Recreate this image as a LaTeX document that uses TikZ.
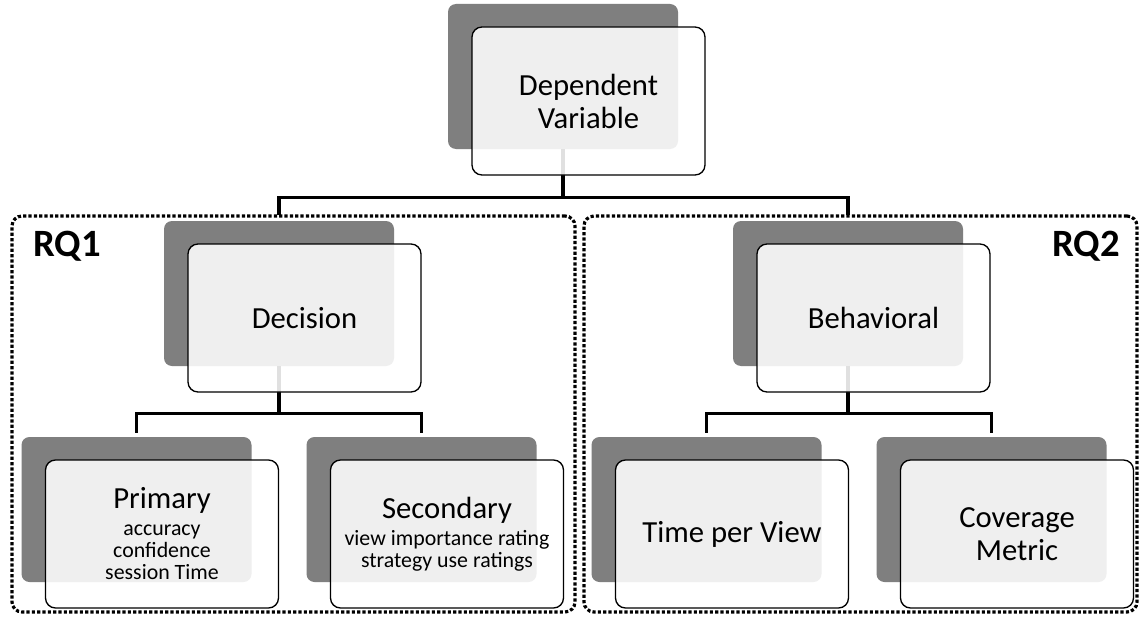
\documentclass[tikz,border=0pt]{standalone}
\usepackage{fontspec}
\setmainfont{Carlito}
\usetikzlibrary{calc}
\definecolor{darkbox}{HTML}{7F7F7F}
\tikzset{
  darkbox/.style={rectangle, rounded corners=6pt, fill=darkbox, draw=none,
    minimum width=172.5pt, minimum height=108.75pt, inner sep=0pt},
  frontbox/.style={rectangle, rounded corners=7.5pt, draw=black, line width=1pt,
    fill=white, fill opacity=0.88, text opacity=1, text=black,
    minimum width=174.75pt, minimum height=111pt, inner sep=0pt, align=center},
  titletext/.style={font=\fontsize{23}{24.75}\selectfont},
  subtext/.style={font=\fontsize{16.4}{16.5}\selectfont},
  conn/.style={draw=black, line width=2.6pt},
  rqframe/.style={rectangle, draw=black, line width=2.4pt,
    dash pattern=on 2.4pt off 1.6pt, rounded corners=7.5pt, inner sep=0pt},
  rqlabel/.style={font=\bfseries\fontsize{29}{32}\selectfont, inner sep=0pt},
}
\newcommand{\ttl}[1]{{\fontsize{23}{24.75}\selectfont #1}}
\begin{document}
\begin{tikzpicture}[x=0.75pt, y=-0.75pt]
\useasboundingbox[fill=white] (0,0) rectangle (1139,617);

% group frames
\node[rqframe, minimum width=422.25pt, minimum height=297pt] (rq1) at (293.5,414) {};
\node[rqframe, minimum width=414.75pt, minimum height=297pt] (rq2) at (860.5,414) {};
\node[rqlabel, anchor=base west] (rq1lab) at (33,256) {RQ1};
\node[rqlabel, anchor=base east] (rq2lab) at (1120,256) {RQ2};

% back boxes
\node[darkbox] (dvb)  at (563,76.5) {};
\node[darkbox] (decb) at (279,293.5) {};
\node[darkbox] (behb) at (848,293.5) {};
\node[darkbox] (prib) at (136.5,509.5) {};
\node[darkbox] (secb) at (421.5,509.5) {};
\node[darkbox] (tpvb) at (706.5,509.5) {};
\node[darkbox] (covb) at (991.5,509.5) {};

% connectors
\draw[conn, shorten >=4.5pt] (dvb.south) -- ++(0,48) -| (decb.north);
\draw[conn, shorten >=4.5pt] (dvb.south) -- ++(0,48) -| (behb.north);
\draw[conn, shorten >=3pt] (decb.south) -- ++(0,47) -| (prib.north);
\draw[conn, shorten >=3pt] (decb.south) -- ++(0,47) -| (secb.north);
\draw[conn, shorten >=3pt] (behb.south) -- ++(0,47) -| (tpvb.north);
\draw[conn, shorten >=3pt] (behb.south) -- ++(0,47) -| (covb.north);

% front boxes
\node[frontbox, titletext] (dv)  at ($(dvb)+(25.5,24.5)$)  {Dependent\\Variable};
\node[frontbox, titletext] (dec) at ($(decb)+(25.5,24.5)$) {Decision};
\node[frontbox, titletext] (beh) at ($(behb)+(25.5,24.5)$) {Behavioral};
\node[frontbox, subtext]   (pri) at ($(prib)+(25.5,24.5)$)
  {\ttl{Primary}\\[3.75pt]accuracy\\confidence\\session Time};
\node[frontbox, subtext]   (sec) at ($(secb)+(25.5,24.5)$)
  {\ttl{Secondary}\\[3.75pt]view importance rating\\strategy use ratings};
\node[frontbox, titletext] (tpv) at ($(tpvb)+(25.5,24.5)$) {Time per View};
\node[frontbox, titletext] (cov) at ($(covb)+(25.5,24.5)$) {Coverage\\Metric};
\end{tikzpicture}
\end{document}
